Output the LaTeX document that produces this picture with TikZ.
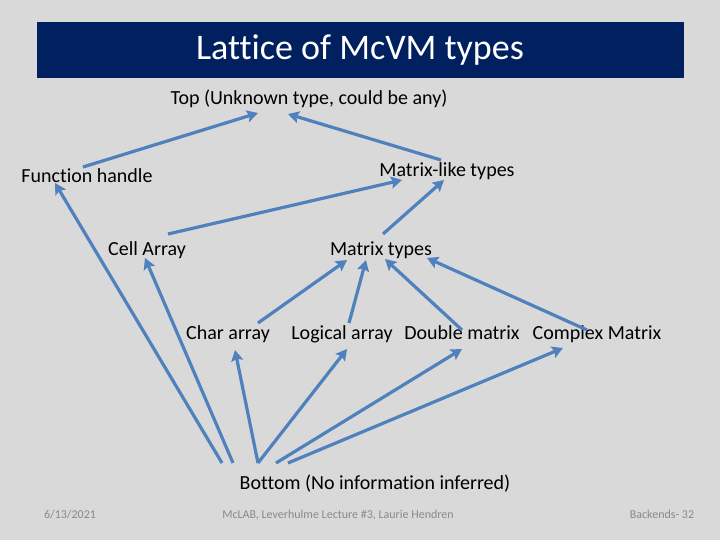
\documentclass[tikz,border=0pt]{standalone}
\usepackage{fontspec}
\setmainfont{Carlito}[Ligatures=NoCommon]
\usetikzlibrary{arrows.meta}
\usetikzlibrary{calc}
\definecolor{slidegray}{HTML}{D9D9D9}
\definecolor{titlenavy}{HTML}{002060}
\definecolor{arrowblue}{HTML}{4F81BD}
\definecolor{footgray}{HTML}{898989}
\tikzset{
  type/.style={inner sep=0pt, text height=14pt, text depth=4pt, font=\fontsize{20}{22}\selectfont},
  foot/.style={inner sep=0pt, text height=9pt, text depth=3pt, text=footgray, font=\fontsize{12}{14}\selectfont},
  link/.style={draw=arrowblue, line width=3.2pt}
}
\begin{document}
\begin{tikzpicture}[x=1pt,y=-1pt,->,>={Stealth[length=11pt,width=12pt,inset=2pt]}]
        \fill[slidegray] (0,0) rectangle (720,540);
        \useasboundingbox (0,0) rectangle (720,540);
        \fill[titlenavy] (37,22) rectangle (684,78);
        \node[text=white, font=\fontsize{36}{40}\selectfont] (title) at (360,50) {Lattice of McVM types};
        \node[type] (top) at (309,100) {Top (Unknown type, could be any)};
        \node[type] (fh) at (87,178) {Function handle};
        \node[type] (mlt) at (447,172) {Matrix-like types};
        \node[type] (cell) at (147,250) {Cell Array};
        \node[type] (mt) at (381,250) {Matrix types};
        \node[type] (chr) at (228,334) {Char array};
        \node[type] (log) at (342,334) {Logical array};
        \node[type] (dbl) at (462,334) {Double matrix};
        \node[type] (cpx) at (597,334) {Complex Matrix};
        \node[type] (bot) at (375,484) {Bottom (No information inferred)};
        \node[foot] (date) at (70,515) {6/13/2021};
        \node[foot] (lect) at (338,515) {McLAB, Leverhulme Lecture \#3, Laurie Hendren};
        \node[foot] (page) at (662,515) {Backends- 32};
        \path[link] ($(fh)+(-4,-11)$) -- ($(top)+(-51,13)$);
        \path[link] ($(mlt)+(-6,-12)$) -- ($(top)+(-21,14)$);
        \path[link] ($(cell)+(21,-16)$) -- ($(mlt)+(-45,8)$);
        \path[link] ($(mt)+(2,-16)$) -- ($(mlt)+(-3,8)$);
        \path[link] ($(chr)+(30,-11)$) -- ($(mt)+(-34,10)$);
        \path[link] ($(log)+(7,-11)$) -- ($(mt)+(-15,10)$);
        \path[link] ($(dbl)+(0,-4)$) -- ($(mt)+(4,9)$);
        \path[link] ($(cpx)+(-10,-4)$) -- ($(mt)+(46,8)$);
        \path[link] ($(bot)+(-153,-21)$) -- ($(fh)+(-32,5)$);
        \path[link] ($(bot)+(-142,-21)$) -- ($(cell)+(-2,8)$);
        \path[link] ($(bot)+(-117,-21)$) -- ($(chr)+(7,16)$);
        \path[link] ($(bot)+(-117,-21)$) -- ($(log)+(5,15)$);
        \path[link] ($(bot)+(-99,-21)$) -- ($(dbl)+(0,15)$);
        \path[link] ($(bot)+(-87,-21)$) -- ($(cpx)+(-34,14)$);
    \end{tikzpicture}
\end{document}
